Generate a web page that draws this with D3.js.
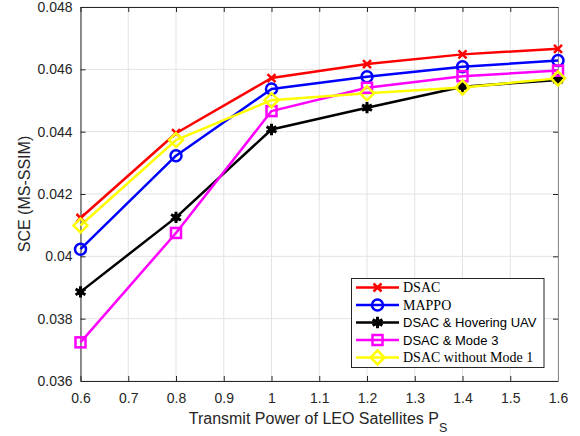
<!DOCTYPE html>
<html>
<head>
<meta charset="UTF-8">
<title>SCE vs transmit power</title>
<script src="https://cdn.jsdelivr.net/npm/d3@7"></script>
<style>
  body { margin: 0; background: #fff; }
  svg { display: block; }
  .tick-label { font-family: "Liberation Sans", Arial, sans-serif; font-size: 14px; fill: #262626; }
</style>
</head>
<body>
<svg width="580" height="436"></svg>
<script>

// DATA

var powers = [0.6, 0.8, 1.0, 1.2, 1.4, 1.6];
var xTicks = [0.6, 0.7, 0.8, 0.9, 1.0, 1.1, 1.2, 1.3, 1.4, 1.5, 1.6];
var yTicks = [0.036, 0.038, 0.040, 0.042, 0.044, 0.046, 0.048];

var dsac        = [0.04123, 0.04395, 0.04572, 0.04617, 0.04648, 0.04666];
var mappo       = [0.04023, 0.04323, 0.04537, 0.04576, 0.04608, 0.04628];
var hoveringUav = [0.03886, 0.04125, 0.04407, 0.04477, 0.04544, 0.04566];
var mode3       = [0.03724, 0.04075, 0.04466, 0.04541, 0.04578, 0.04596];
var noMode1     = [0.04099, 0.04373, 0.04501, 0.04523, 0.04542, 0.04571];

var seriesNames = ["DSAC", "MAPPO", "DSAC & Hovering UAV", "DSAC & Mode 3", "DSAC without Mode 1"];

// SETUP

var svg = d3.select("svg"),
    plotLeft = 80.5, plotRight = 558, plotTop = 7, plotBottom = 381;

var x = d3.scaleLinear().domain([0.6, 1.6]).range([plotLeft, plotRight]);
var y = d3.scaleLinear().domain([0.036, 0.048]).range([plotBottom, plotTop]);

var series = [
  { name: seriesNames[0], values: dsac,        color: "#ff0000", marker: "x",       font: "serif" },
  { name: seriesNames[1], values: mappo,       color: "#0000ff", marker: "circle",  font: "serif" },
  { name: seriesNames[2], values: hoveringUav, color: "#000000", marker: "star",    font: "sans" },
  { name: seriesNames[3], values: mode3,       color: "#ff00ff", marker: "square",  font: "sans" },
  { name: seriesNames[4], values: noMode1,     color: "#ffff00", marker: "diamond", font: "serif" }
];

// grid
var grid = svg.append("g").attr("stroke", "#e3e3e3").attr("stroke-width", 1);
grid.selectAll(".gx").data(xTicks).enter().append("line")
  .attr("x1", function (d) { return x(d); }).attr("x2", function (d) { return x(d); })
  .attr("y1", plotTop).attr("y2", plotBottom);
grid.selectAll(".gy").data(yTicks).enter().append("line")
  .attr("y1", function (d) { return y(d); }).attr("y2", function (d) { return y(d); })
  .attr("x1", plotLeft).attr("x2", plotRight);

// axes (ticks inward, box on)
var fmtX = function (d) { return String(+d.toFixed(1)); };
var fmtY = function (d) { return String(+d.toFixed(3)); };

var axB = svg.append("g").attr("transform", "translate(0," + plotBottom + ")")
  .call(d3.axisBottom(x).tickValues(xTicks).tickSizeInner(-5).tickSizeOuter(0).tickPadding(12).tickFormat(fmtX));
var axT = svg.append("g").attr("transform", "translate(0," + plotTop + ")")
  .call(d3.axisTop(x).tickValues(xTicks).tickSizeInner(-5).tickSizeOuter(0).tickFormat(""));
var axL = svg.append("g").attr("transform", "translate(" + plotLeft + ",0)")
  .call(d3.axisLeft(y).tickValues(yTicks).tickSizeInner(-5).tickSizeOuter(0).tickPadding(8).tickFormat(fmtY));
var axR = svg.append("g").attr("transform", "translate(" + plotRight + ",0)")
  .call(d3.axisRight(y).tickValues(yTicks).tickSizeInner(-5).tickSizeOuter(0).tickFormat(""));

[axB, axT, axL, axR].forEach(function (a) {
  a.select(".domain").attr("stroke", "#262626").attr("stroke-width", 1);
  a.selectAll(".tick line").attr("stroke", "#262626");
  a.selectAll(".tick text").attr("class", "tick-label").attr("font-size", null).attr("font-family", null);
});
axR.select(".domain").attr("stroke", "#8c8c8c");

// axis titles
svg.append("text")
  .attr("x", 318).attr("y", 424)
  .attr("text-anchor", "middle")
  .attr("font-family", "Liberation Sans, Arial, sans-serif")
  .attr("font-size", 16).attr("fill", "#262626")
  .text("Transmit Power of LEO Satellites P")
  .append("tspan").attr("dy", 8).attr("font-size", 12.5).text("S");

svg.append("text")
  .attr("transform", "translate(30," + ((plotTop + plotBottom) / 2) + ") rotate(-90)")
  .attr("text-anchor", "middle")
  .attr("font-family", "Liberation Sans, Arial, sans-serif")
  .attr("font-size", 16).attr("fill", "#262626")
  .text("SCE (MS-SSIM)");

// MARKERS

function drawMarker(g, type, color, cx, cy) {
  if (type === "circle") {
    g.append("circle").attr("cx", cx).attr("cy", cy).attr("r", 5.5)
      .attr("fill", "none").attr("stroke", color).attr("stroke-width", 2.5);
  } else if (type === "square") {
    g.append("rect").attr("x", cx - 5).attr("y", cy - 5).attr("width", 10).attr("height", 10)
      .attr("fill", "none").attr("stroke", color).attr("stroke-width", 2.5);
  } else if (type === "diamond") {
    g.append("path").attr("d", "M" + cx + "," + (cy - 7) + "L" + (cx + 7) + "," + cy + "L" + cx + "," + (cy + 7) + "L" + (cx - 7) + "," + cy + "Z")
      .attr("fill", "none").attr("stroke", color).attr("stroke-width", 2.5);
  } else if (type === "x") {
    g.append("path").attr("d", "M" + (cx - 4) + "," + (cy - 4) + "L" + (cx + 4) + "," + (cy + 4) + "M" + (cx - 4) + "," + (cy + 4) + "L" + (cx + 4) + "," + (cy - 4))
      .attr("stroke", color).attr("stroke-width", 2.5);
  } else if (type === "star") {
    g.append("path").attr("d", d3.symbol().type(d3.symbolAsterisk).size(90)())
      .attr("transform", "translate(" + cx + "," + cy + ")")
      .attr("stroke", color).attr("stroke-width", 3);
    g.append("circle").attr("cx", cx).attr("cy", cy).attr("r", 3.5).attr("fill", color);
  }
}

// LINES

var line = d3.line()
  .x(function (d, i) { return x(powers[i]); })
  .y(function (d) { return y(d); });

var plot = svg.append("g");
series.forEach(function (s) {
  plot.append("path").datum(s.values)
    .attr("d", line)
    .attr("fill", "none").attr("stroke", s.color).attr("stroke-width", 2.5)
    .attr("stroke-linejoin", "round");
});
series.forEach(function (s) {
  var g = plot.append("g");
  s.values.forEach(function (v, i) { drawMarker(g, s.marker, s.color, x(powers[i]), y(v)); });
});

// LEGEND

var lg = svg.append("g");
lg.append("rect").attr("x", 351.5).attr("y", 278.5).attr("width", 192.5).attr("height", 89)
  .attr("fill", "#fff").attr("stroke", "#262626").attr("stroke-width", 1);

series.forEach(function (s, i) {
  var ly = 287.5 + i * 17.5;
  lg.append("line").attr("x1", 356).attr("x2", 399).attr("y1", ly).attr("y2", ly)
    .attr("stroke", s.color).attr("stroke-width", 2.5);
  drawMarker(lg, s.marker, s.color, 377.5, ly);
  lg.append("text").attr("x", 403).attr("y", ly + 4.5)
    .attr("font-family", s.font === "serif" ? "Liberation Serif, Times New Roman, serif" : "Liberation Sans, Arial, sans-serif")
    .attr("font-size", s.font === "serif" ? 14 : 13)
    .attr("fill", "#000")
    .text(s.name);
});

</script>
</body>
</html>
